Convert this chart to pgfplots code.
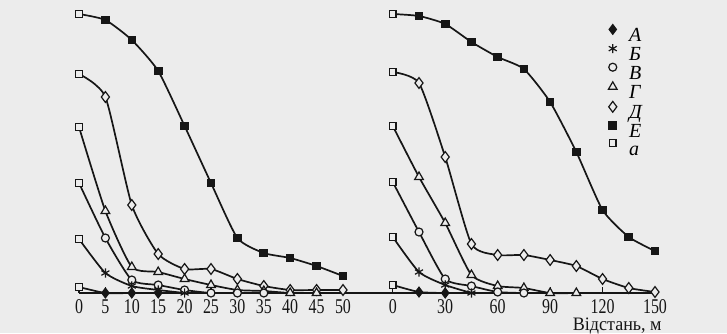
\documentclass[border=0pt]{standalone}
\usepackage{fontspec}
\setmainfont{Liberation Serif}
\newfontfamily\tickfont[FakeStretch=0.76]{Liberation Serif}
\newfontfamily\labfont[FakeStretch=0.95]{Liberation Serif}
\usepackage{pgfplots}
\pgfplotsset{compat=1.18}
\definecolor{bg}{RGB}{236,236,236}
\definecolor{ink}{RGB}{22,22,22}

\pgfplotsset{
  panel/.style={
    scale only axis, height=142.5pt, ymin=0, ymax=285,
    axis x line=bottom, axis y line=none,
    axis line style={-, ink, line width=0.7pt},
    clip=false, tick align=inside, major tick length=3pt,
    xtick style={ink, line width=0.6pt},
    ticklabel style={font=\tickfont\fontsize{10.5}{12}\selectfont, text=ink},
    xticklabel style={inner sep=1pt, text depth=0pt, yshift=-2pt},
    /pgf/number format/assume math mode=true,
    every axis plot/.append style={ink, line width=0.85pt, smooth, tension=0.35},
  },
  mA/.style={mark=diamond*, mark size=2.5pt, mark options={fill=ink, line width=0.5pt}},
  mB/.style={mark=asterisk, mark size=2.3pt, mark options={line width=0.6pt}},
  mV/.style={mark=*, mark size=2pt, mark options={fill=bg, line width=0.6pt}},
  mG/.style={mark=triangle*, mark size=2.5pt, mark options={fill=bg, line width=0.6pt}},
  mD/.style={mark=diamond*, mark size=2.7pt, mark options={fill=bg, line width=0.6pt}},
  mE/.style={mark=square*, mark size=1.9pt, mark options={fill=ink, line width=0.5pt}},
  ma/.style={mark=square*, mark size=1.6pt, mark options={fill=bg, line width=0.6pt}},
}

\begin{document}
\begin{tikzpicture}
\fill[bg] (0,0) rectangle (363.5pt,166.5pt);
\path[use as bounding box] (0,0) rectangle (363.5pt,166.5pt);

% ---------------- left panel ----------------
\begin{axis}[panel, at={(39.5pt,20pt)}, anchor=south west,
  width=145.2pt, xmin=0, xmax=55, xtick={0,5,...,50}]
\addplot[mE, mark phase=2, mark repeat=1] coordinates {(0,279)(5,273)(10,253)(15,222)(20,167)(25,110)(30,55)(35,40)(40,35)(45,27)(50,17)};
\addplot[mD, mark phase=2, mark repeat=1] coordinates {(0,219)(5,196)(10,88)(15,39)(20,24)(25,24)(30,14)(35,7)(40,3)(45,3)(50,3)};
\addplot[mG, mark phase=2, mark repeat=1] coordinates {(0,166)(5,82)(10,26)(15,21)(20,14)(25,8)(30,3)(35,2)(40,0)(45,0)};
\addplot[mV, mark phase=2, mark repeat=1] coordinates {(0,110)(5,55)(10,13)(15,8)(20,3)(25,0)(30,0)(35,0)};
\addplot[mB, mark phase=2, mark repeat=1] coordinates {(0,54)(5,20)(10,7)(15,3)(20,0)};
\addplot[mA, mark phase=2, mark repeat=1] coordinates {(0,6)(5,0)(10,0)(15,0)};
\addplot[only marks, ma] coordinates {(0,279)(0,219)(0,166)(0,110)(0,54)(0,6)};
\end{axis}

% ---------------- right panel ----------------
\begin{axis}[panel, at={(184.5pt,20pt)}, anchor=south west,
  width=143pt, xmin=-13.6, xmax=150, xtick={0,30,...,150},
  legend style={at={(axis cs:119.7,273)}, anchor=north west, draw=none, fill=none,
    font=\itshape\fontsize{10}{10}\selectfont, row sep=1.3pt, column sep=6pt,
    nodes={inner sep=0pt, text height=6pt, text depth=0pt}},
  legend cell align=left,
  legend image code/.code={\draw[#1] plot coordinates {(0pt,3pt)};}]
\addlegendimage{only marks, mA}\addlegendentry{А}
\addlegendimage{only marks, mB}\addlegendentry{Б}
\addlegendimage{only marks, mV}\addlegendentry{В}
\addlegendimage{only marks, mG}\addlegendentry{Г}
\addlegendimage{only marks, mD}\addlegendentry{Д}
\addlegendimage{only marks, mE}\addlegendentry{Е}
\addlegendimage{only marks, ma}\addlegendentry{а}
\addplot[mE, mark phase=2, mark repeat=1, forget plot] coordinates {(0,279)(15,277)(30,269)(45,251)(60,236)(75,224)(90,191)(105,141)(120,83)(135,56)(150,42)};
\addplot[mD, mark phase=2, mark repeat=1, forget plot] coordinates {(0,221)(15,210)(30,136)(45,49)(60,38)(75,38)(90,33)(105,27)(120,14)(135,5)(150,1)};
\addplot[mG, mark phase=2, mark repeat=1, forget plot] coordinates {(0,167)(15,116)(30,70)(45,18)(60,7)(75,5)(90,0)(105,0)};
\addplot[mV, mark phase=2, mark repeat=1, forget plot] coordinates {(0,111)(15,61)(30,14)(45,7)(60,1)(75,0)};
\addplot[mB, mark phase=2, mark repeat=1, forget plot] coordinates {(0,56)(15,21)(30,8)(45,0)};
\addplot[mA, mark phase=2, mark repeat=1, forget plot] coordinates {(0,8)(15,1)(30,0)};
\addplot[only marks, ma, forget plot] coordinates {(0,279)(0,221)(0,167)(0,111)(0,56)(0,8)};
\end{axis}

\node[anchor=base east, inner sep=0pt, font=\labfont\fontsize{9.5}{10}\selectfont, text=ink] at (331pt,1.2pt) {Відстань, м};
\end{tikzpicture}
\end{document}
